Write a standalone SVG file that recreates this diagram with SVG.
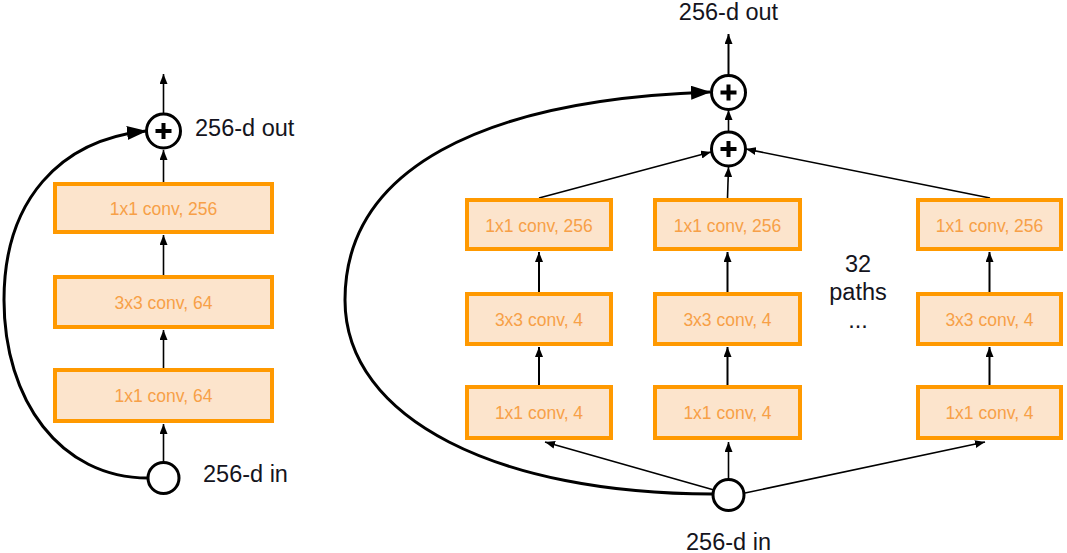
<svg xmlns="http://www.w3.org/2000/svg" width="1067" height="553" viewBox="0 0 1067 553">
<style>
.box{fill:#FCE4CC;stroke:#FF9900;stroke-width:4}
.bl{font-family:"Liberation Sans",Arial,sans-serif;font-size:17.5px;fill:#F7A047;text-anchor:middle}
.lbl{font-family:"Liberation Sans",Arial,sans-serif;font-size:23.5px;fill:#141420}
.node{fill:#fff;stroke:#000;stroke-width:3}
.plus{stroke:#000;stroke-width:4}
.thin{fill:none;stroke:#000;stroke-width:1.6;marker-end:url(#a)}
.med{fill:none;stroke:#000;stroke-width:2;marker-end:url(#a)}
.thick{fill:none;stroke:#000;stroke-width:3;marker-end:url(#b)}
</style>
<defs>
<marker id="a" markerUnits="userSpaceOnUse" markerWidth="10" markerHeight="8" refX="10" refY="4" orient="auto"><path d="M0,0 L10,4 L0,8 z" fill="#000"/></marker>
<marker id="b" markerUnits="userSpaceOnUse" markerWidth="20" markerHeight="14" refX="19" refY="7" orient="auto"><path d="M0,0 L20,7 L0,14 z" fill="#000"/></marker>
</defs>
<g id="connectors">
<path class="thick" d="M148,478 C60,478 4,400 4,300 C4,200 60,140 146,131"/>
<line class="thin" x1="163.5" y1="462" x2="163.5" y2="424"/>
<line class="thin" x1="163.5" y1="368" x2="163.5" y2="330"/>
<line class="thin" x1="163.5" y1="275" x2="163.5" y2="235"/>
<line class="thin" x1="163.5" y1="182" x2="163.5" y2="150"/>
<line class="thin" x1="163.5" y1="113" x2="163.5" y2="74"/>
<path class="thick" d="M712,494 C500,494 345,420 345,300 C345,170 480,100 710,92"/>
<line class="med" x1="728.5" y1="75" x2="728.5" y2="34"/>
<line class="thin" x1="728.5" y1="132" x2="728.5" y2="110"/>
<line class="thin" x1="539" y1="198" x2="711" y2="152"/>
<line class="thin" x1="727.5" y1="198" x2="728.5" y2="167"/>
<line class="thin" x1="990" y1="198" x2="746" y2="149"/>
<line class="med" x1="539" y1="292" x2="539" y2="252"/>
<line class="med" x1="539" y1="385" x2="539" y2="347"/>
<line class="med" x1="727.5" y1="292" x2="727.5" y2="252"/>
<line class="med" x1="727.5" y1="385" x2="727.5" y2="347"/>
<line class="med" x1="989.5" y1="292" x2="989.5" y2="252"/>
<line class="med" x1="989.5" y1="385" x2="989.5" y2="347"/>
<line class="thin" x1="714" y1="490" x2="545" y2="442"/>
<line class="thin" x1="728.5" y1="479" x2="728.5" y2="442"/>
<line class="thin" x1="745" y1="493" x2="985" y2="442"/>
</g>
<g id="L_conv1"><rect class="box" x="55" y="370" width="217" height="51"/><text class="bl" x="163.5" y="402">1x1 conv, 64</text></g>
<g id="L_conv2"><rect class="box" x="55" y="277" width="217" height="50"/><text class="bl" x="163.5" y="308.5">3x3 conv, 64</text></g>
<g id="L_conv3"><rect class="box" x="55" y="184" width="217" height="48"/><text class="bl" x="163.5" y="214.5">1x1 conv, 256</text></g>
<g id="L_in"><circle class="node" cx="163.5" cy="478" r="15.5"/><text class="lbl" x="203" y="482">256-d in</text></g>
<g id="L_add"><circle class="node" cx="163.5" cy="131" r="17"/><path class="plus" d="M155.5,131 H171.5 M163.5,123 V139"/><text class="lbl" x="195" y="136">256-d out</text></g>
<g id="R1_conv1"><rect class="box" x="467" y="387" width="144" height="51"/><text class="bl" x="539" y="418.5">1x1 conv, 4</text></g>
<g id="R1_conv2"><rect class="box" x="467" y="294" width="144" height="50"/><text class="bl" x="539" y="325.5">3x3 conv, 4</text></g>
<g id="R1_conv3"><rect class="box" x="467" y="200" width="144" height="49"/><text class="bl" x="539" y="231.5">1x1 conv, 256</text></g>
<g id="R2_conv1"><rect class="box" x="655" y="387" width="145" height="51"/><text class="bl" x="727.5" y="418.5">1x1 conv, 4</text></g>
<g id="R2_conv2"><rect class="box" x="655" y="294" width="145" height="50"/><text class="bl" x="727.5" y="325.5">3x3 conv, 4</text></g>
<g id="R2_conv3"><rect class="box" x="655" y="200" width="145" height="49"/><text class="bl" x="727.5" y="231.5">1x1 conv, 256</text></g>
<g id="R3_conv1"><rect class="box" x="918" y="387" width="143" height="51"/><text class="bl" x="989.5" y="418.5">1x1 conv, 4</text></g>
<g id="R3_conv2"><rect class="box" x="918" y="294" width="143" height="50"/><text class="bl" x="989.5" y="325.5">3x3 conv, 4</text></g>
<g id="R3_conv3"><rect class="box" x="918" y="200" width="143" height="49"/><text class="bl" x="989.5" y="231.5">1x1 conv, 256</text></g>
<g id="R_paths"><text class="lbl" x="858" y="272" text-anchor="middle">32</text><text class="lbl" x="858" y="300" text-anchor="middle">paths</text><text class="lbl" x="858" y="328" text-anchor="middle">...</text></g>
<g id="R_in"><circle class="node" cx="728.5" cy="495" r="15.5"/><text class="lbl" x="728.5" y="550" text-anchor="middle">256-d in</text></g>
<g id="R_sum"><circle class="node" cx="728.5" cy="149" r="17"/><path class="plus" d="M720.5,149 H736.5 M728.5,141 V157"/></g>
<g id="R_add"><circle class="node" cx="728.5" cy="92.5" r="17"/><path class="plus" d="M720.5,92.5 H736.5 M728.5,84.5 V100.5"/><text class="lbl" x="728.5" y="20" text-anchor="middle">256-d out</text></g>
</svg>
